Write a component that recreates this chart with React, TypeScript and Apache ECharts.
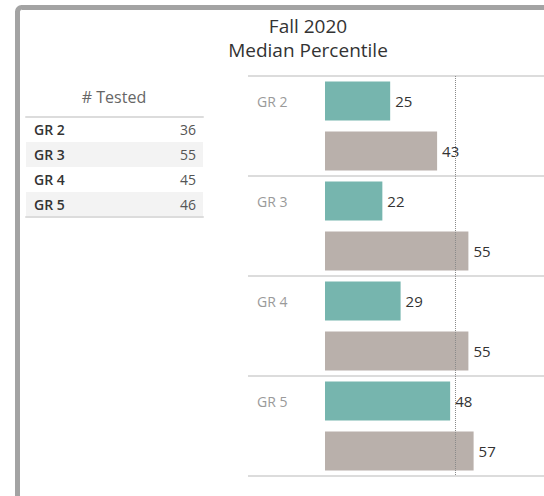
import React, { useEffect, useRef } from "react";
import * as echarts from "echarts";

const GRADES = ["GR 2", "GR 3", "GR 4", "GR 5"];
const FALL_2020 = [25, 22, 29, 48];
const COMPARISON = [43, 55, 55, 57];
const TESTED = [36, 55, 45, 46];
const MEDIAN_REF = 50;

const FONT = "Open Sans";
const LINE = { color: "#dcdcdc", width: 2 };

export default function App() {
  const ref = useRef<HTMLDivElement>(null);
  useEffect(() => {
    if (!ref.current) return;
    const chart = echarts.init(ref.current, undefined, { renderer: "svg" });
    const barLabel = {
      show: true,
      position: "right",
      distance: 5,
      color: "#333",
      fontSize: 15,
      fontFamily: FONT,
    };
    chart.setOption({
      animation: false,
      backgroundColor: "#fff",
      textStyle: { fontFamily: FONT },
      title: [
        {
          text: "Fall 2020\nMedian Percentile",
          left: 303,
          top: 9,
          textAlign: "center",
          textStyle: { fontSize: 19, fontWeight: "normal", color: "#333", lineHeight: 24, fontFamily: FONT },
        },
        {
          text: "# Tested",
          left: 109,
          top: 84,
          textAlign: "center",
          textStyle: { fontSize: 16, fontWeight: "normal", color: "#666", fontFamily: FONT },
        },
      ],
      graphic: [
        {
          type: "rect",
          silent: true,
          shape: { x: 17.5, y: 7.5, width: 600, height: 600, r: 4 },
          style: { fill: "none", stroke: "#a3a3a3", lineWidth: 5 },
        },
      ],
      grid: [
        { left: 325, top: 76, right: 0, bottom: 20 },
        { left: 26, top: 117, width: 177, height: 100 },
      ],
      xAxis: [
        { gridIndex: 0, type: "value", min: 0, max: 84, show: false },
        {
          gridIndex: 1, type: "value", min: 0, max: 1, position: "bottom",
          axisLine: { show: true, lineStyle: LINE }, axisTick: { show: false },
          axisLabel: { show: false }, splitLine: { show: false },
        },
        {
          gridIndex: 1, type: "value", min: 0, max: 1, position: "top",
          axisLine: { show: true, lineStyle: LINE }, axisTick: { show: false },
          axisLabel: { show: false }, splitLine: { show: false },
        },
      ],
      yAxis: [
        {
          gridIndex: 0, type: "category", data: GRADES, inverse: true,
          axisLine: { show: false },
          axisTick: { show: true, length: 77, interval: 0, lineStyle: LINE },
          splitLine: { show: true, interval: 0, lineStyle: LINE },
          axisLabel: {
            align: "left", margin: 68, color: "#9a9a9a", fontSize: 14, lineHeight: 50,
            fontFamily: FONT, formatter: (v: string) => v + "\n ",
          },
        },
        {
          gridIndex: 1, type: "category", data: GRADES, inverse: true,
          axisLine: { show: false }, axisTick: { show: false },
          axisLabel: { inside: true, margin: 8, color: "#333", fontSize: 14, fontWeight: 600, fontFamily: FONT },
          splitArea: { show: true, interval: 0, areaStyle: { color: ["#ffffff", "#f3f3f3"] } },
        },
        {
          gridIndex: 1, type: "category", position: "right", data: TESTED.map(String), inverse: true,
          axisLine: { show: false }, axisTick: { show: false },
          axisLabel: { inside: true, margin: 7, color: "#555", fontSize: 14, fontFamily: FONT },
        },
      ],
      series: [
        {
          type: "bar", name: "Fall 2020", xAxisIndex: 0, yAxisIndex: 0,
          data: FALL_2020, barWidth: 39, barGap: "28%",
          itemStyle: { color: "#76b5ae" }, label: barLabel,
          markLine: {
            silent: true, symbol: ["none", "none"], label: { show: false },
            lineStyle: { type: "dotted", color: "#8a8a8a", width: 1 },
            data: [{ xAxis: MEDIAN_REF }],
          },
        },
        {
          type: "bar", name: "Comparison", xAxisIndex: 0, yAxisIndex: 0,
          data: COMPARISON, barWidth: 39,
          itemStyle: { color: "#b9b0ab" }, label: barLabel,
        },
      ],
    });
    return () => chart.dispose();
  }, []);
  return (
    <div
      ref={ref}
      style={{ position: "fixed", left: 0, top: 0, width: 544, height: 496, background: "#fff" }}
    />
  );
}
